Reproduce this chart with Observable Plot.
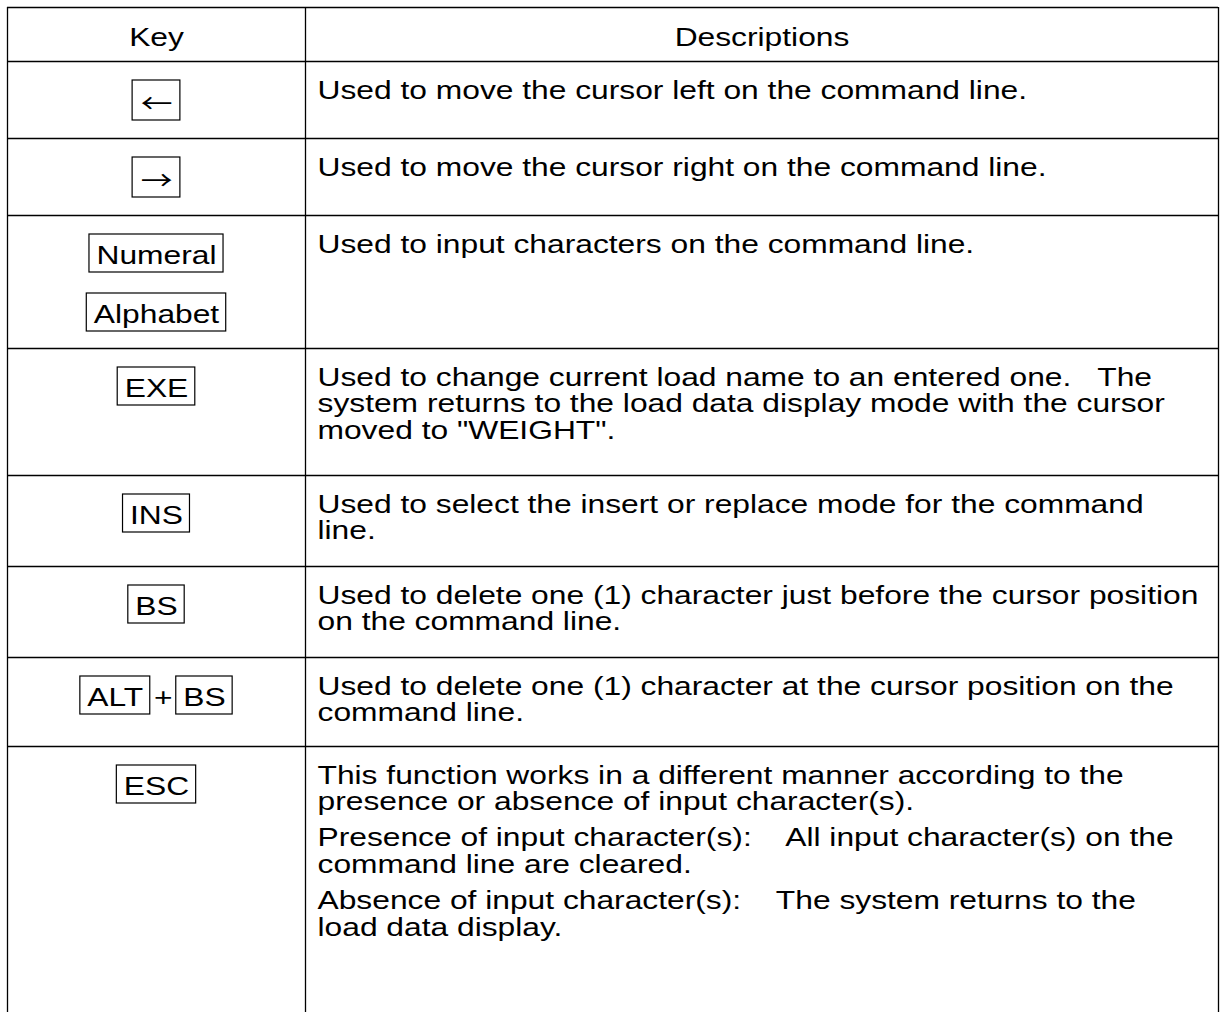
<!DOCTYPE html>
<html>
<head>
<meta charset="utf-8">
<script src="https://cdn.jsdelivr.net/npm/d3@7"></script>
<script src="https://cdn.jsdelivr.net/npm/@observablehq/plot@0.6"></script>
<style>
  html, body { margin: 0; padding: 0; background: #fff; }
  #chart svg { display: block; }
  #chart svg text { white-space: pre; }
</style>
</head>
<body>
<div id="chart"></div>
<script>
// ---------- content ----------
const headers = ["Key", "Descriptions"];

// each row: list of key lines; each line: list of keys joined by "+"
const keyLines = [
  [["←"]],
  [["→"]],
  [["Numeral"], ["Alphabet"]],
  [["EXE"]],
  [["INS"]],
  [["BS"]],
  [["ALT", "BS"]],
  [["ESC"]]
];

// each row: list of paragraphs; each paragraph: list of lines
const descParagraphs = [
  [["Used to move the cursor left on the command line."]],
  [["Used to move the cursor right on the command line."]],
  [["Used to input characters on the command line."]],
  [["Used to change current load name to an entered one.   The",
    "system returns to the load data display mode with the cursor",
    "moved to \"WEIGHT\"."]],
  [["Used to select the insert or replace mode for the command",
    "line."]],
  [["Used to delete one (1) character just before the cursor position",
    "on the command line."]],
  [["Used to delete one (1) character at the cursor position on the",
    "command line."]],
  [["This function works in a different manner according to the",
    "presence or absence of input character(s)."],
   ["Presence of input character(s):    All input character(s) on the",
    "command line are cleared."],
   ["Absence of input character(s):    The system returns to the",
    "load data display."]]
];

// ---------- layout ----------
const W = 1223, H = 1012;
const rowEdges = [7, 61, 138, 215, 348, 475, 566, 657, 746];
const colEdges = [7, 305, 1218];
const FS = 26;            // vertical font size
const SX = 1.222;         // horizontal stretch of the glyphs
const LINE = 26.8;        // line step
const PARA = 36;          // paragraph step
const PAD = 7;            // key box padding
const ARROW_PAD = 8;
const PLUS_GAP = 26;
const SANS = "'Liberation Sans', Arial, Helvetica, sans-serif";
const CJK = "'Noto Sans CJK JP', 'DejaVu Sans', sans-serif";

const ctx = document.createElement("canvas").getContext("2d");
const isArrow = s => s === "←" || s === "→";
function textWidth(s) {
  ctx.font = `${FS}px ${isArrow(s) ? CJK : SANS}`;
  return ctx.measureText(s).width * SX;
}

const keyCenter = (colEdges[0] + colEdges[1]) / 2;
const descCenter = (colEdges[1] + colEdges[2]) / 2;
const descX = colEdges[1] + 12;

const headerText = [
  {x: keyCenter, y: rowEdges[0] + 38, text: headers[0]},
  {x: descCenter, y: rowEdges[0] + 38, text: headers[1]}
];

const descText = [];
const keyBoxes = [];
const keyText = [];
const arrowText = [];
const plusText = [];

descParagraphs.forEach((paras, i) => {
  const top = rowEdges[i + 1];
  let y = top + 37;
  paras.forEach((lines, j) => {
    if (j > 0) y += PARA;
    lines.forEach((t, k) => {
      if (k > 0) y += LINE;
      descText.push({x: descX, y, text: t});
    });
  });
});

keyLines.forEach((lines, i) => {
  const top = rowEdges[i + 1];
  lines.forEach((keys, l) => {
    const arrow = keys.some(isArrow);
    const boxTop = top + 19 + l * 59;
    const boxH = arrow ? 40 : 38;
    const widths = keys.map(k => textWidth(k) + 2 * (isArrow(k) ? ARROW_PAD : PAD));
    const total = d3.sum(widths) + (keys.length - 1) * PLUS_GAP;
    let x = keyCenter - total / 2;
    keys.forEach((k, m) => {
      if (m > 0) {
        plusText.push({x: x + PLUS_GAP / 2, y: boxTop + 29, text: "+"});
        x += PLUS_GAP;
      }
      keyBoxes.push({x1: x, x2: x + widths[m], y1: boxTop, y2: boxTop + boxH});
      const rec = {x: x + widths[m] / 2, y: boxTop + (isArrow(k) ? 32 : 29), text: k};
      (isArrow(k) ? arrowText : keyText).push(rec);
      x += widths[m];
    });
  });
});

// ---------- plot ----------
const textOpts = {x: "x", y: "y", text: "text", fill: "#000", fontSize: FS, lineAnchor: "bottom"};

const chart = Plot.plot({
  width: W,
  height: H,
  margin: 0,
  x: {domain: [0, W], range: [0, W], axis: null},
  y: {domain: [0, H], range: [0, H], axis: null},
  style: {background: "#fff", fontFamily: SANS, color: "#000"},
  marks: [
    Plot.ruleY(rowEdges, {y: d => d, x1: colEdges[0], x2: colEdges[2], stroke: "#000", strokeWidth: 1.3}),
    Plot.ruleX(colEdges, {x: d => d, y1: rowEdges[0], y2: H, stroke: "#000", strokeWidth: 1.3}),
    Plot.rect(keyBoxes, {x1: "x1", x2: "x2", y1: "y1", y2: "y2", fill: "none", stroke: "#000", strokeWidth: 1.2}),
    Plot.text(headerText, {...textOpts, textAnchor: "middle"}),
    Plot.text(descText, {...textOpts, textAnchor: "start"}),
    Plot.text(keyText, {...textOpts, textAnchor: "middle"}),
    Plot.text(plusText, {...textOpts, textAnchor: "middle"}),
    Plot.text(arrowText, {...textOpts, textAnchor: "middle", fontFamily: CJK})
  ]
});

// stretch glyphs horizontally around each text anchor
chart.querySelectorAll("text").forEach(t => {
  const tr = t.getAttribute("transform") || "";
  t.setAttribute("transform", `${tr} scale(${SX},1)`);
});

document.getElementById("chart").appendChild(chart);
</script>
</body>
</html>
